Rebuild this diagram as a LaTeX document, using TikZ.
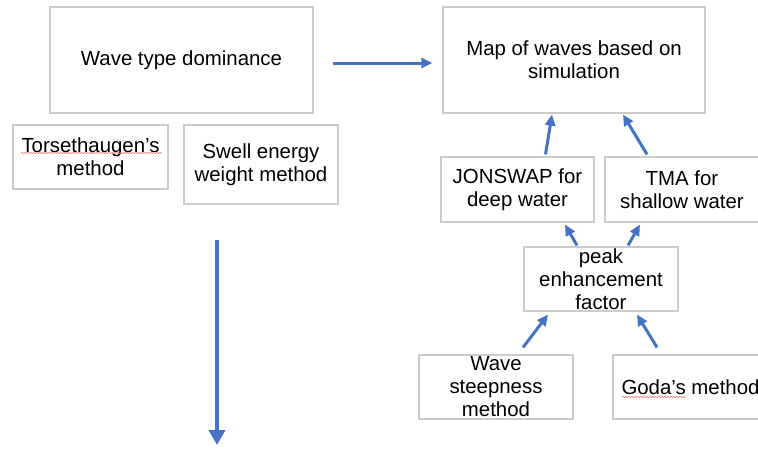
\documentclass[tikz,border=0pt]{standalone}
\usepackage{fontspec}
\setmainfont{Liberation Sans}
\usetikzlibrary{arrows.meta,decorations.pathmorphing}
\definecolor{arrowblue}{RGB}{68,114,196}
\definecolor{squigred}{RGB}{232,112,112}

\begin{document}
\begin{tikzpicture}[
  x=1pt,
  y=-1pt,
  box/.style={
    draw=gray!40,
    line width=1.2pt,
    align=center,
    inner sep=0pt,
    minimum width=155pt,
    minimum height=64pt,
    font=\fontsize{20.4pt}{23pt}\selectfont
  },
  arr/.style={
    arrowblue,
    line width=3pt,
    -{Triangle[length=11pt,width=10pt]}
  },
  squig/.style={
    squigred,
    line width=0.6pt,
    decorate,
    decoration={snake,amplitude=0.6pt,segment length=3pt}
  }
]
\useasboundingbox (0,0) rectangle (758,448);
\clip (0,0) rectangle (758,448);

% left column
\node[box,minimum width=263pt,minimum height=106pt] (wtd) at (181.5,60) {Wave type dominance};
\node[box] (tors) at (90.5,157) {Torsethaugen’s\\method};
\node[box,minimum width=154pt,minimum height=79pt] (swell) at (261,164.5) {Swell energy\\weight method};

% right column
\node[box,minimum width=262pt,minimum height=106pt] (map) at (574,60) {Map of waves based on\\simulation};
\node[box,minimum width=153pt,minimum height=65pt] (jonswap) at (517.5,189.5) {JONSWAP for\\deep water};
\node[box,minimum width=154pt,minimum height=65pt] (tma) at (682,189.5) {TMA for\\shallow water};
\node[box,minimum width=154pt] (peak) at (601,279) {peak\\enhancement\\factor};
\node[box,minimum width=154pt] (steep) at (496,387) {Wave\\steepness\\method};
\node[box] (goda) at (690.5,387) {Goda’s method};

% spell check marks
\draw[squig] ([xshift=-69.5pt,yshift=4pt]tors.center) -- ([xshift=71.5pt,yshift=4pt]tors.center);
\draw[squig] ([xshift=-68.5pt,yshift=-10pt]goda.center) -- ([xshift=-4.5pt,yshift=-10pt]goda.center);

% arrows
\draw[arr] ([xshift=19pt,yshift=-3pt]wtd.east) -- ([xshift=-10pt,yshift=-3pt]map.west);
\draw[arr] ([xshift=28pt,yshift=2pt]jonswap.north) -- ([xshift=-22pt,yshift=-1pt]map.south);
\draw[arr] ([xshift=-35pt,yshift=2pt]tma.north) -- ([xshift=49pt,yshift=-1pt]map.south);
\draw[arr] ([xshift=-24pt,yshift=1pt]peak.north) -- ([xshift=47.5pt,yshift=-2pt]jonswap.south);
\draw[arr] ([xshift=27pt,yshift=1pt]peak.north) -- ([xshift=-42pt,yshift=-2pt]tma.south);
\draw[arr] ([xshift=27pt,yshift=7pt]steep.north) -- ([xshift=-53pt,yshift=-3pt]peak.south);
\draw[arr] ([xshift=-33.5pt,yshift=7pt]goda.north) -- ([xshift=36pt,yshift=-3pt]peak.south);

\coordinate (dstart) at (217,240);
\coordinate (dend) at (217,445);
\draw[arr,line width=4pt,-{Triangle[length=15pt,width=16pt]}] (dstart) -- (dend);
\end{tikzpicture}
\end{document}
